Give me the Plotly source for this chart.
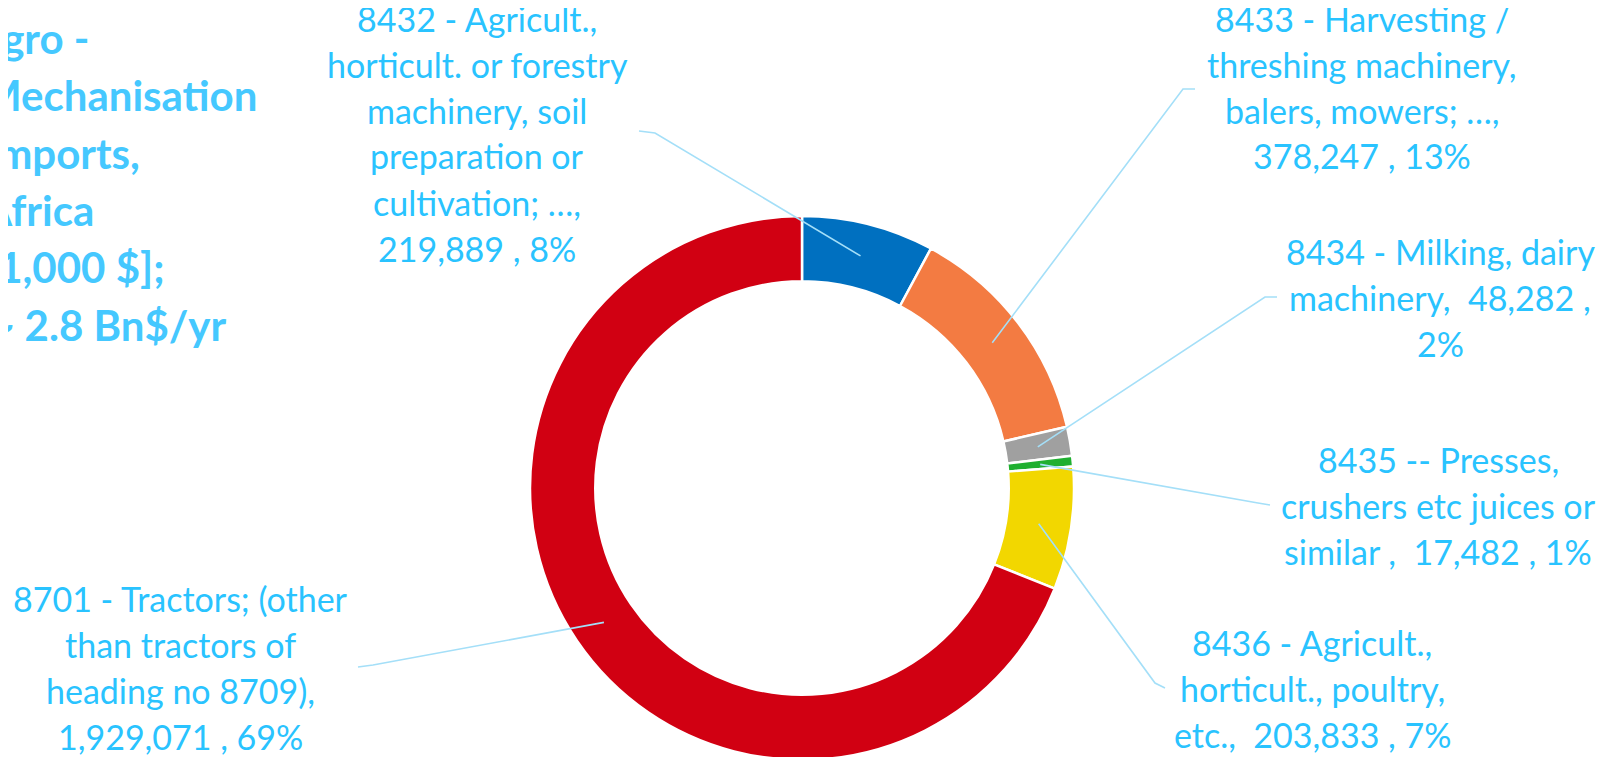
import math
import plotly.graph_objects as go

# ---------------- data ----------------
codes = ["8432", "8433", "8434", "8435", "8436", "8701"]
values = [219889, 378247, 48282, 17482, 203833, 1929071]
pct_labels = ["8%", "13%", "2%", "1%", "7%", "69%"]
colors = ["#0070C0", "#F37B42", "#A0A0A0", "#1FAF30", "#F2D700", "#D10012"]
label_lines = [
    ["8432 - Agricult.,", "horticult. or forestry", "machinery, soil", "preparation or",
     "cultivation; \u2026,", "{v} , {p}"],
    ["8433 - Harvesting /", "threshing machinery,", "balers, mowers; \u2026,", "{v} , {p}"],
    ["8434 - Milking, dairy", "machinery,  {v} ,", "{p}"],
    ["8435 -- Presses,", "crushers etc juices or", "similar ,  {v} , {p}"],
    ["8436 - Agricult.,", "horticult., poultry,", "etc.,  {v} , {p}"],
    ["8701 - Tractors; (other", "than tractors of", "heading no 8709),", "{v} , {p}"],
]
title_lines = ["Agro -", "Mechanisation", "Imports,", "Africa", "[1,000 $];", "~ 2.8 Bn$/yr"]

# ---------------- layout constants (page pixels) ----------------
W, H = 1606, 757
OFF = 8  # default body margin of the html page
CX, CY, R = 802.0, 488.0, 272.0
HOLE = 0.76

label_x = [477, 1362, 1440, 1438, 1312, 180]
label_first_y = [18, 18, 251.5, 459.5, 642.5, 598]
LINE_H = 46
leader_pts = [((639, 131), (655, 133)), ((1195, 89), (1183, 89)), ((1277, 297), (1265, 297)),
              ((1270, 505), (1258, 503)), ((1165, 688), (1155, 683)), ((358, 667), (373, 665))]

title_x = [-30, -20, -17, -20, -17, -12]
title_y0, title_dy = 38, 57.3

LABEL_COLOR = "#29C3FF"
LINE_COLOR = "#A4DFF8"
TITLE_COLOR = "#45C8FF"
FONT = "Lato, Carlito, sans-serif"

total = sum(values)


def px(x):
    return (x - OFF) / W


def py(y):
    return 1 - (y - OFF) / H


fig = go.Figure(go.Pie(
    labels=codes,
    values=values,
    sort=False,
    direction="clockwise",
    rotation=0,
    hole=HOLE,
    marker=dict(colors=colors, line=dict(color="white", width=2.5)),
    textinfo="none",
    hoverinfo="label+value+percent",
    showlegend=False,
    domain=dict(x=[px(CX - R), px(CX + R)], y=[py(CY + R), py(CY - R)]),
))

annotations = []
shapes = []
cum = 0.0
rmid = R * (1 + HOLE) / 2.0
for i, v in enumerate(values):
    mid = (cum + v / 2.0) / total * 2 * math.pi
    cum += v
    ix = CX + rmid * math.sin(mid)
    iy = CY - rmid * math.cos(mid)
    (ox, oy), (ex, ey) = leader_pts[i]
    shapes.append(dict(
        type="path", xref="paper", yref="paper",
        path=f"M {px(ox)},{py(oy)} L {px(ex)},{py(ey)} L {px(ix)},{py(iy)}",
        line=dict(color=LINE_COLOR, width=1.6),
    ))
    vtxt = f"{v:,}"
    for k, ln in enumerate(label_lines[i]):
        annotations.append(dict(
            x=px(label_x[i]), y=py(label_first_y[i] + k * LINE_H),
            xref="paper", yref="paper", xanchor="center", yanchor="middle",
            text=ln.format(v=vtxt, p=pct_labels[i]), showarrow=False,
            font=dict(family=FONT, size=34, color=LABEL_COLOR),
        ))

for k, t in enumerate(title_lines):
    annotations.append(dict(
        x=px(title_x[k]), y=py(title_y0 + k * title_dy),
        xref="paper", yref="paper", xanchor="left", yanchor="middle",
        text=f"<b>{t}</b>", showarrow=False,
        font=dict(family=FONT, size=42, color=TITLE_COLOR),
    ))

fig.update_layout(
    width=W, height=H,
    margin=dict(l=0, r=0, t=0, b=0),
    paper_bgcolor="white", plot_bgcolor="white",
    annotations=annotations, shapes=shapes,
)

fig.write_html("out.html")
